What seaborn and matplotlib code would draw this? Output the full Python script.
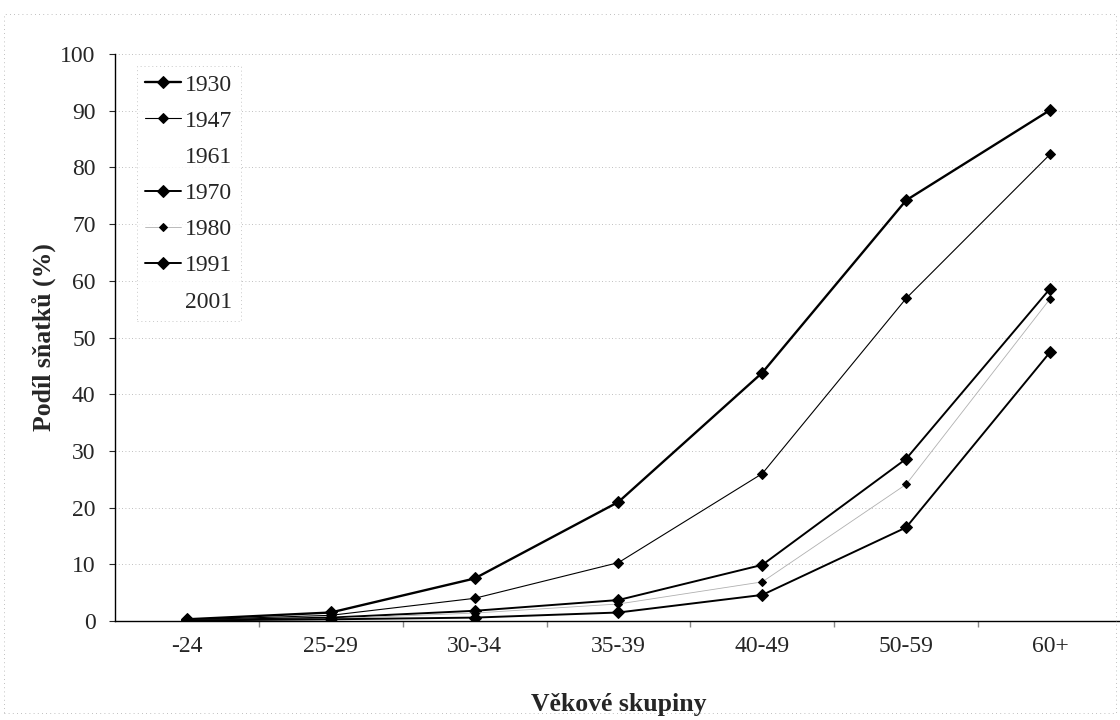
import numpy as np
import pandas as pd
import seaborn as sns
import matplotlib.pyplot as plt
from matplotlib.patches import Rectangle

# Data
groups = ["-24", "25-29", "30-34", "35-39", "40-49", "50-59", "60+"]
y1930 = [0.3, 1.5, 7.5, 21.0, 43.8, 74.2, 90.1]
y1947 = [0.2, 1.0, 4.0, 10.3, 26.0, 56.9, 82.3]
y1970 = [0.1, 0.6, 1.8, 3.7, 9.9, 28.6, 58.6]
y1980 = [0.1, 0.4, 1.4, 3.0, 6.9, 24.1, 56.8]
y1991 = [0.1, 0.3, 0.6, 1.5, 4.6, 16.5, 47.4]

sns.set_theme(style="white")
plt.rcParams['font.family'] = ['Liberation Serif', 'DejaVu Serif']

fig = plt.figure(figsize=(11.2, 7.2), dpi=100)
ax = fig.add_axes([0.1027, 0.1375, 0.899, 0.7875])

pos = np.arange(len(groups))
styles = {
    "1930": dict(y=y1930, lw=1.7, color="black", ms=6),
    "1947": dict(y=y1947, lw=0.8, color="black", ms=5.5),
    "1961": None,
    "1970": dict(y=y1970, lw=1.4, color="black", ms=6),
    "1980": dict(y=y1980, lw=0.6, color="#b0b0b0", ms=4.5),
    "1991": dict(y=y1991, lw=1.4, color="black", ms=6),
    "2001": None,
}

for name, st in styles.items():
    if st is None:
        # series that is not visible in the scanned chart, legend only
        ax.plot([], [], color="none", label=name)
        continue
    df = pd.DataFrame({"group": pos, "value": st["y"]})
    sns.lineplot(data=df, x="group", y="value", ax=ax, color=st["color"],
                 lw=st["lw"], marker="D", markersize=st["ms"],
                 markerfacecolor="black", markeredgecolor="black", label=name)

ax.set_xlim(-0.5, len(groups) - 0.5)
ax.set_ylim(0, 100)
ax.set_yticks(range(0, 101, 10))
ax.set_xticks(pos)
ax.set_xticklabels(groups)
ax.set_xticks(np.arange(0.5, len(groups) - 0.5, 1), minor=True)
ax.tick_params(axis="x", which="major", length=0, labelsize=17, pad=11)
ax.tick_params(axis="x", which="minor", length=4, color="#888888", direction="out", bottom=True)
ax.tick_params(axis="y", length=4, width=0.8, labelsize=17, left=True, direction="out", pad=10)

ax.yaxis.grid(True, linestyle=(0, (1, 3)), color="#aaaaaa", lw=0.6)
ax.xaxis.grid(False)
for s in ["top", "right"]:
    ax.spines[s].set_visible(False)
for s in ["left", "bottom"]:
    ax.spines[s].set_color("black")
    ax.spines[s].set_linewidth(1.0)

ax.set_xlabel("Věkové skupiny", fontsize=18.5, fontweight="bold", labelpad=26)
ax.set_ylabel("Podíl sňatků (%)", fontsize=18.5, fontweight="bold", labelpad=3)

leg = ax.legend(loc="upper left", bbox_to_anchor=(0.01, 1.0), fontsize=17,
                handlelength=1.5, handletextpad=0.2, labelspacing=0.62,
                frameon=True, fancybox=False, borderpad=0.35)
leg.get_frame().set_edgecolor("#bbbbbb")
leg.get_frame().set_linestyle((0, (1, 3)))
leg.get_frame().set_linewidth(0.7)

# faint dotted border of the chart area
fig.patches.append(Rectangle((0.004, 0.01), 0.992, 0.97, transform=fig.transFigure,
                             fill=False, ec="#aaaaaa", lw=0.6, ls=(0, (1, 4))))

plt.savefig("out.png", dpi=100)
